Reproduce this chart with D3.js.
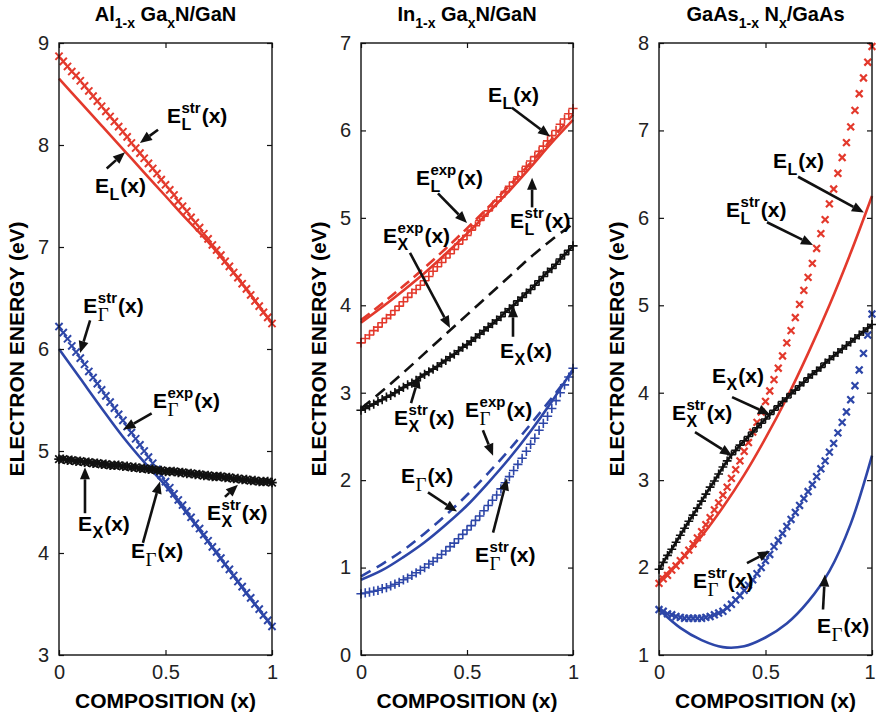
<!DOCTYPE html>
<html>
<head>
<meta charset="utf-8">
<script src="https://cdn.jsdelivr.net/npm/d3@7"></script>
<style>
  body { margin: 0; background: #fff; }
  svg { display: block; font-family: "Liberation Sans", Arial, sans-serif; }
</style>
</head>
<body>
<svg id="chart" width="876" height="715"></svg>
<script>
// --- composition grids ---
const xCoarse = [0, 0.1, 0.2, 0.3, 0.4, 0.5, 0.6, 0.7, 0.8, 0.9, 1];
const xFine = [0, 0.02, 0.04, 0.06, 0.08, 0.1, 0.12, 0.14, 0.16, 0.18,
  0.2, 0.22, 0.24, 0.26, 0.28, 0.3, 0.32, 0.34, 0.36, 0.38,
  0.4, 0.42, 0.44, 0.46, 0.48, 0.5, 0.52, 0.54, 0.56, 0.58,
  0.6, 0.62, 0.64, 0.66, 0.68, 0.7, 0.72, 0.74, 0.76, 0.78,
  0.8, 0.82, 0.84, 0.86, 0.88, 0.9, 0.92, 0.94, 0.96, 0.98, 1];

// --- Al(1-x)Ga(x)N / GaN ---
const alganELstr = [8.87, 8.82, 8.77, 8.72, 8.68, 8.63, 8.58, 8.53, 8.48, 8.43,
  8.38, 8.33, 8.28, 8.23, 8.18, 8.13, 8.08, 8.02, 7.97, 7.92,
  7.87, 7.82, 7.77, 7.72, 7.66, 7.61, 7.56, 7.51, 7.45, 7.40,
  7.35, 7.29, 7.24, 7.19, 7.13, 7.08, 7.02, 6.97, 6.92, 6.86,
  6.81, 6.75, 6.70, 6.64, 6.59, 6.53, 6.47, 6.42, 6.36, 6.31, 6.25];
const alganEL = [8.65, 8.42, 8.19, 7.96, 7.73, 7.50, 7.27, 7.05, 6.80, 6.53, 6.25];
const alganGstr = [6.22, 6.16, 6.10, 6.03, 5.97, 5.91, 5.85, 5.78, 5.72, 5.66,
  5.60, 5.54, 5.48, 5.42, 5.36, 5.30, 5.24, 5.18, 5.12, 5.06,
  5.00, 4.94, 4.88, 4.82, 4.76, 4.70, 4.64, 4.58, 4.52, 4.47,
  4.41, 4.35, 4.29, 4.24, 4.18, 4.12, 4.06, 4.01, 3.95, 3.89,
  3.84, 3.78, 3.72, 3.67, 3.61, 3.56, 3.50, 3.45, 3.39, 3.34, 3.28];
const alganG = [6.00, 5.71, 5.42, 5.14, 4.89, 4.66, 4.39, 4.11, 3.83, 3.55, 3.28];
const alganX = [4.92, 4.92, 4.91, 4.91, 4.90, 4.90, 4.89, 4.89, 4.88, 4.88,
  4.87, 4.87, 4.86, 4.86, 4.86, 4.85, 4.85, 4.84, 4.84, 4.83,
  4.83, 4.82, 4.82, 4.81, 4.81, 4.80, 4.80, 4.80, 4.79, 4.79,
  4.78, 4.78, 4.77, 4.77, 4.76, 4.76, 4.75, 4.75, 4.75, 4.74,
  4.74, 4.73, 4.73, 4.72, 4.72, 4.71, 4.71, 4.70, 4.70, 4.70, 4.69];

// --- In(1-x)Ga(x)N / GaN ---
const inganELstr = [3.57, 3.62, 3.66, 3.71, 3.75, 3.80, 3.85, 3.89, 3.94, 3.99,
  4.04, 4.09, 4.14, 4.18, 4.23, 4.28, 4.33, 4.39, 4.44, 4.49,
  4.54, 4.59, 4.64, 4.70, 4.75, 4.80, 4.86, 4.91, 4.97, 5.02,
  5.08, 5.13, 5.19, 5.24, 5.30, 5.36, 5.41, 5.47, 5.53, 5.59,
  5.65, 5.70, 5.76, 5.82, 5.88, 5.94, 6.00, 6.07, 6.13, 6.19, 6.25];
const inganEL = [3.80, 3.98, 4.17, 4.37, 4.59, 4.82, 5.06, 5.31, 5.58, 5.86, 6.12];
const inganELexp = [3.83, 4.02, 4.22, 4.43, 4.65, 4.88, 5.12, 5.37, 5.63, 5.90, 6.18];
const inganXstr = [2.80, 2.82, 2.85, 2.87, 2.90, 2.92, 2.95, 2.97, 3.00, 3.03,
  3.06, 3.09, 3.11, 3.14, 3.18, 3.21, 3.24, 3.27, 3.30, 3.34,
  3.37, 3.41, 3.44, 3.48, 3.52, 3.55, 3.59, 3.63, 3.67, 3.71,
  3.75, 3.79, 3.83, 3.87, 3.92, 3.96, 4.00, 4.05, 4.09, 4.14,
  4.18, 4.23, 4.28, 4.33, 4.38, 4.42, 4.47, 4.53, 4.58, 4.63, 4.68];
const inganXexp = [2.82, 3.02, 3.23, 3.45, 3.67, 3.89, 4.11, 4.33, 4.55, 4.75, 4.93];
const inganGstr = [0.70, 0.71, 0.72, 0.73, 0.74, 0.76, 0.77, 0.79, 0.81, 0.83,
  0.86, 0.88, 0.91, 0.94, 0.97, 1.00, 1.04, 1.07, 1.11, 1.15,
  1.19, 1.24, 1.28, 1.33, 1.38, 1.43, 1.48, 1.54, 1.59, 1.65,
  1.71, 1.77, 1.83, 1.90, 1.97, 2.04, 2.11, 2.18, 2.25, 2.33,
  2.41, 2.48, 2.57, 2.65, 2.73, 2.82, 2.91, 3.00, 3.09, 3.18, 3.28];
const inganG = [0.86, 0.97, 1.12, 1.29, 1.49, 1.71, 1.97, 2.25, 2.56, 2.90, 3.27];
const inganGexp = [0.90, 1.04, 1.20, 1.39, 1.60, 1.83, 2.08, 2.35, 2.64, 2.94, 3.25];

// --- GaAs(1-x)N(x) / GaAs ---
const gaasnELstr = [1.82, 1.87, 1.91, 1.97, 2.02, 2.08, 2.14, 2.20, 2.27, 2.34,
  2.41, 2.49, 2.57, 2.66, 2.74, 2.83, 2.92, 3.02, 3.12, 3.22,
  3.33, 3.43, 3.55, 3.66, 3.78, 3.90, 4.02, 4.15, 4.28, 4.42,
  4.57, 4.71, 4.86, 5.01, 5.17, 5.32, 5.48, 5.65, 5.82, 5.98,
  6.16, 6.33, 6.51, 6.69, 6.86, 7.04, 7.23, 7.42, 7.60, 7.78, 7.96];
const gaasnEL = [1.85, 2.08, 2.36, 2.69, 3.06, 3.48, 3.94, 4.45, 5.00, 5.60, 6.25];
const gaasnXstr = [1.98, 2.06, 2.14, 2.21, 2.29, 2.37, 2.45, 2.53, 2.60, 2.68,
  2.76, 2.84, 2.92, 2.99, 3.07, 3.15, 3.22, 3.29, 3.34, 3.40,
  3.45, 3.50, 3.55, 3.60, 3.65, 3.70, 3.75, 3.80, 3.85, 3.90,
  3.94, 3.99, 4.03, 4.08, 4.12, 4.17, 4.21, 4.25, 4.29, 4.34,
  4.38, 4.42, 4.46, 4.50, 4.54, 4.58, 4.62, 4.66, 4.70, 4.74, 4.78];
const gaasnGstr = [1.52, 1.50, 1.47, 1.46, 1.44, 1.43, 1.42, 1.42, 1.42, 1.42,
  1.42, 1.43, 1.44, 1.46, 1.48, 1.50, 1.54, 1.58, 1.63, 1.68,
  1.74, 1.80, 1.86, 1.93, 2.00, 2.08, 2.15, 2.24, 2.31, 2.39,
  2.47, 2.55, 2.63, 2.71, 2.79, 2.87, 2.95, 3.04, 3.13, 3.22,
  3.32, 3.42, 3.54, 3.66, 3.78, 3.92, 4.08, 4.26, 4.45, 4.66, 4.90];
const gaasnG = [1.52, 1.31, 1.17, 1.09, 1.10, 1.20, 1.36, 1.61, 1.96, 2.50, 3.28];

// --- tick labels ---
const xTicks = [0, 0.5, 1];
const xTickLabels = ['0', '0.5', '1'];
const alganYTicks = [3, 4, 5, 6, 7, 8, 9];
const inganYTicks = [0, 1, 2, 3, 4, 5, 6, 7];
const gaasnYTicks = [1, 2, 3, 4, 5, 6, 7, 8];

// --- arrow annotations (data units: label anchor, arrow tail, arrow tip) ---
const alganNotes = [
  { sub: 'L', sup: 'str', at: [0.507, 8.22], from: [0.465, 8.15], to: [0.380, 8.02] },
  { sub: 'L', sup: null, at: [0.169, 7.53], from: [0.224, 7.77], to: [0.310, 7.93] },
  { sub: 'Γ', sup: 'str', at: [0.114, 6.35], from: [0.146, 6.28], to: [0.099, 5.96] },
  { sub: 'Γ', sup: 'exp', at: [0.441, 5.42], from: [0.435, 5.37], to: [0.302, 5.21] },
  { sub: 'X', sup: null, at: [0.089, 4.22], from: [0.122, 4.39], to: [0.122, 4.84] },
  { sub: 'Γ', sup: null, at: [0.338, 3.95], from: [0.394, 4.10], to: [0.474, 4.70] },
  { sub: 'X', sup: 'str', at: [0.695, 4.32], from: [0.779, 4.55], to: [0.840, 4.67] }
];
const inganNotes = [
  { sub: 'L', sup: null, at: [0.599, 6.33], from: [0.712, 6.26], to: [0.892, 5.93] },
  { sub: 'L', sup: 'exp', at: [0.259, 5.38], from: [0.363, 5.28], to: [0.500, 4.94] },
  { sub: 'L', sup: 'str', at: [0.703, 4.88], from: [0.807, 5.12], to: [0.807, 5.46] },
  { sub: 'X', sup: 'exp', at: [0.104, 4.71], from: [0.231, 4.60], to: [0.420, 3.74] },
  { sub: 'X', sup: null, at: [0.656, 3.40], from: [0.717, 3.64], to: [0.717, 4.00] },
  { sub: 'X', sup: 'str', at: [0.156, 2.63], from: [0.236, 2.88], to: [0.274, 3.19] },
  { sub: 'Γ', sup: 'exp', at: [0.491, 2.72], from: [0.575, 2.57], to: [0.623, 2.28] },
  { sub: 'Γ', sup: null, at: [0.189, 1.97], from: [0.316, 1.86], to: [0.453, 1.64] },
  { sub: 'Γ', sup: 'str', at: [0.538, 1.06], from: [0.623, 1.40], to: [0.689, 2.02] }
];
const gaasnNotes = [
  { sub: 'L', sup: null, at: [0.535, 6.57], from: [0.653, 6.47], to: [0.962, 6.06] },
  { sub: 'L', sup: 'str', at: [0.315, 6.01], from: [0.507, 5.95], to: [0.723, 5.69] },
  { sub: 'X', sup: null, at: [0.249, 4.11], from: [0.343, 3.95], to: [0.521, 3.75] },
  { sub: 'X', sup: 'str', at: [0.061, 3.69], from: [0.169, 3.55], to: [0.343, 3.28] },
  { sub: 'Γ', sup: 'str', at: [0.160, 1.77], from: [0.413, 2.05], to: [0.521, 2.19] },
  { sub: 'Γ', sup: null, at: [0.742, 1.25], from: [0.770, 1.52], to: [0.779, 1.92] }
];

const RED = '#e3392c', BLUE = '#2d46a8', BLACK = '#111';
const TOP = 43, BOTTOM = 655, WIDTH = 876;

const panels = [
  {
    left: 59, right: 272, yDomain: [3, 9], yTicks: alganYTicks, labelX: 24,
    title: [{ t: 'Al' }, { t: '1-x', sub: true }, { t: ' Ga' }, { t: 'x', sub: true }, { t: 'N/GaN' }],
    series: [
      { kind: 'line', x: xCoarse, y: alganEL, color: RED },
      { kind: 'marker', x: xFine, y: alganELstr, color: RED, marker: 'x', r: 3.6, sw: 2 },
      { kind: 'line', x: xCoarse, y: alganG, color: BLUE },
      { kind: 'marker', x: xFine, y: alganGstr, color: BLUE, marker: 'x', r: 3.6, sw: 2 },
      { kind: 'line', x: xFine, y: alganX, color: BLACK },
      { kind: 'marker', x: xFine, y: alganX, color: BLACK, marker: '*', r: 3.8, sw: 1.7 }
    ],
    notes: alganNotes
  },
  {
    left: 361, right: 573, yDomain: [0, 7], yTicks: inganYTicks, labelX: 326,
    title: [{ t: 'In' }, { t: '1-x', sub: true }, { t: ' Ga' }, { t: 'x', sub: true }, { t: 'N/GaN' }],
    series: [
      { kind: 'line', x: xCoarse, y: inganELexp, color: RED, dash: '11,6' },
      { kind: 'line', x: xCoarse, y: inganEL, color: RED },
      { kind: 'marker', x: xFine, y: inganELstr, color: RED, marker: '+', r: 4.6, sw: 1.6 },
      { kind: 'line', x: xCoarse, y: inganXexp, color: BLACK, dash: '12,7' },
      { kind: 'line', x: xFine, y: inganXstr, color: BLACK },
      { kind: 'marker', x: xFine, y: inganXstr, color: BLACK, marker: '+', r: 4.6, sw: 1.6 },
      { kind: 'line', x: xCoarse, y: inganGexp, color: BLUE, dash: '11,7' },
      { kind: 'line', x: xCoarse, y: inganG, color: BLUE },
      { kind: 'marker', x: xFine, y: inganGstr, color: BLUE, marker: '+', r: 4.6, sw: 1.6 }
    ],
    notes: inganNotes
  },
  {
    left: 659, right: 872, yDomain: [1, 8], yTicks: gaasnYTicks, labelX: 624,
    title: [{ t: 'GaAs' }, { t: '1-x', sub: true }, { t: ' N' }, { t: 'x', sub: true }, { t: '/GaAs' }],
    series: [
      { kind: 'line', x: xCoarse, y: gaasnEL, color: RED },
      { kind: 'marker', x: xFine, y: gaasnELstr, color: RED, marker: 'x', r: 3.4, sw: 2.2 },
      { kind: 'line', x: xCoarse, y: gaasnG, color: BLUE },
      { kind: 'marker', x: xFine, y: gaasnGstr, color: BLUE, marker: 'x', r: 3.4, sw: 2.2 },
      { kind: 'line', x: xFine, y: gaasnXstr, color: BLACK, curve: d3.curveLinear },
      { kind: 'marker', x: xFine, y: gaasnXstr, color: BLACK, marker: '+', r: 4.4, sw: 1.6 }
    ],
    notes: gaasnNotes
  }
];

const svg = d3.select('#chart');

// small stroked marker glyphs: x, + and * (both together)
function markerPath(kind, r) {
  const p = d3.path();
  if (kind === 'x' || kind === '*') {
    p.moveTo(-r, -r); p.lineTo(r, r);
    p.moveTo(-r, r); p.lineTo(r, -r);
  }
  if (kind === '+' || kind === '*') {
    const q = kind === '*' ? r * 1.25 : r;
    p.moveTo(-q, 0); p.lineTo(q, 0);
    p.moveTo(0, -q); p.lineTo(0, q);
  }
  return p.toString();
}

function drawNote(g, x, y, n) {
  const px = x(n.at[0]), py = y(n.at[1]);
  const e = g.append('text').attr('x', px).attr('y', py)
    .attr('font-size', 21).attr('font-weight', 'bold').text('E');
  const cx = px + e.node().getComputedTextLength() + 0.5;
  let w = 0;
  if (n.sub) {
    const greek = n.sub === 'Γ';
    const s = g.append('text').attr('x', cx).attr('y', py + (greek ? 8 : 7))
      .attr('font-size', greek ? 19 : 16)
      .attr('font-weight', greek ? 'normal' : 'bold')
      .attr('font-family', greek ? '"Liberation Serif", "DejaVu Serif", serif' : null)
      .text(n.sub);
    w = Math.max(w, s.node().getComputedTextLength());
  }
  if (n.sup) {
    const s = g.append('text').attr('x', cx).attr('y', py - 10)
      .attr('font-size', 15).attr('font-weight', 'bold').text(n.sup);
    w = Math.max(w, s.node().getComputedTextLength());
  }
  g.append('text').attr('x', cx + w + 1).attr('y', py)
    .attr('font-size', 21).attr('font-weight', 'bold').text('(x)');

  // arrow with filled head at the tip
  const x1 = x(n.from[0]), y1 = y(n.from[1]), x2 = x(n.to[0]), y2 = y(n.to[1]);
  const a = Math.atan2(y2 - y1, x2 - x1);
  const L = 12, hw = 5;
  const bx = x2 - L * Math.cos(a), by = y2 - L * Math.sin(a);
  g.append('line').attr('x1', x1).attr('y1', y1).attr('x2', bx).attr('y2', by)
    .attr('stroke', BLACK).attr('stroke-width', 2.6);
  g.append('path')
    .attr('d', `M${x2},${y2}L${bx + hw * Math.sin(a)},${by - hw * Math.cos(a)}L${bx - hw * Math.sin(a)},${by + hw * Math.cos(a)}Z`)
    .attr('fill', BLACK);
}

panels.forEach(pn => {
  const x = d3.scaleLinear().domain([0, 1]).range([pn.left, pn.right]);
  const y = d3.scaleLinear().domain(pn.yDomain).range([BOTTOM, TOP]);
  const g = svg.append('g');

  // series
  pn.series.forEach(s => {
    const pts = d3.zip(s.x, s.y);
    if (s.kind === 'line') {
      const line = d3.line().x(d => x(d[0])).y(d => y(d[1])).curve(s.curve || d3.curveCatmullRom);
      g.append('path').datum(pts).attr('d', line)
        .attr('fill', 'none').attr('stroke', s.color).attr('stroke-width', 2.6)
        .attr('stroke-dasharray', s.dash || null);
    } else {
      const mp = markerPath(s.marker, s.r);
      g.append('g').selectAll('path').data(pts).join('path')
        .attr('d', mp)
        .attr('transform', d => `translate(${x(d[0])},${y(d[1])})`)
        .attr('fill', 'none').attr('stroke', s.color).attr('stroke-width', s.sw);
    }
  });

  // axes with inward ticks
  const axL = g.append('g').attr('transform', `translate(${pn.left},0)`)
    .call(d3.axisLeft(y).tickValues(pn.yTicks).tickSize(-5).tickPadding(10).tickFormat(d3.format('d')));
  g.append('g').attr('transform', `translate(${pn.right},0)`)
    .call(d3.axisRight(y).tickValues(pn.yTicks).tickSize(-5).tickFormat(''));
  const axB = g.append('g').attr('transform', `translate(0,${BOTTOM})`)
    .call(d3.axisBottom(x).tickValues(xTicks).tickSize(-5).tickPadding(10).tickFormat((d, i) => xTickLabels[i]));
  g.append('g').attr('transform', `translate(0,${TOP})`)
    .call(d3.axisTop(x).tickValues(xTicks).tickSize(-5).tickFormat(''));
  g.selectAll('.domain').remove();
  g.selectAll('.tick line').attr('stroke', BLACK).attr('stroke-width', 1.2);
  [axL, axB].forEach(a => a.selectAll('text')
    .attr('font-size', 20).attr('font-family', '"Liberation Sans", Arial, sans-serif').attr('fill', '#222'));
  // keep the last x label inside the page at the right edge
  if (pn.right > WIDTH - 10) {
    axB.selectAll('.tick').filter(d => d === 1).select('text')
      .attr('text-anchor', 'end').attr('x', WIDTH - pn.right - 1);
  }

  g.append('rect').attr('x', pn.left).attr('y', TOP)
    .attr('width', pn.right - pn.left).attr('height', BOTTOM - TOP)
    .attr('fill', 'none').attr('stroke', BLACK).attr('stroke-width', 1.4);

  // title with subscripts
  const title = g.append('text').attr('x', (pn.left + pn.right) / 2).attr('y', 21)
    .attr('text-anchor', 'middle').attr('font-size', 20).attr('font-weight', 'bold');
  let shift = 0;
  pn.title.forEach(p => {
    const target = p.sub ? 7 : 0;
    title.append('tspan').attr('dy', target - shift)
      .attr('font-size', p.sub ? 14 : null).text(p.t);
    shift = target;
  });

  // axis labels
  g.append('text').attr('transform', `translate(${pn.labelX},${(TOP + BOTTOM) / 2}) rotate(-90)`)
    .attr('text-anchor', 'middle').attr('font-size', 21).attr('font-weight', 'bold')
    .text('ELECTRON ENERGY (eV)');
  g.append('text').attr('x', (pn.left + pn.right) / 2).attr('y', 708)
    .attr('text-anchor', 'middle').attr('font-size', 21).attr('font-weight', 'bold')
    .text('COMPOSITION (x)');

  pn.notes.forEach(n => drawNote(g, x, y, n));
});
</script>
</body>
</html>
